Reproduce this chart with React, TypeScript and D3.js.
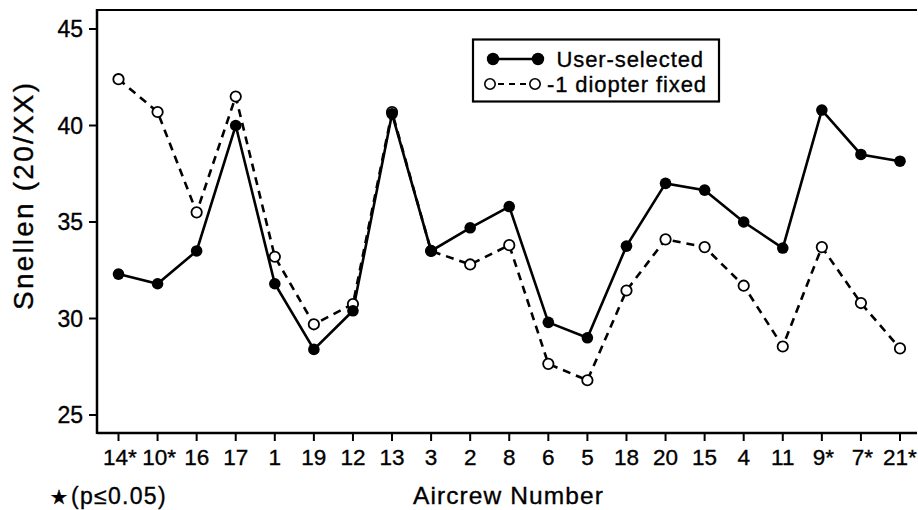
import React from "react";
import * as d3 from "d3";

const categories = ["14*", "10*", "16", "17", "1", "19", "12", "13", "3", "2", "8", "6", "5", "18", "20", "15", "4", "11", "9*", "7*", "21*"];
const userSelected = [32.3, 31.8, 33.5, 40.0, 31.8, 28.4, 30.4, 40.6, 33.5, 34.7, 35.8, 29.8, 29.0, 33.75, 37.0, 36.65, 35.0, 33.65, 40.8, 38.5, 38.15];
const diopterFixed = [42.4, 40.7, 35.5, 41.5, 33.2, 29.7, 30.75, 40.7, 33.5, 32.8, 33.8, 27.65, 26.8, 31.45, 34.1, 33.7, 31.7, 28.55, 33.7, 30.8, 28.45];
const yTicks = [25, 30, 35, 40, 45];
const legendLabels = ["User-selected", "-1 diopter fixed"];

const W = 918;
const H = 510;
const FONT = "'Liberation Sans', Arial, Helvetica, sans-serif";
const TXT = { stroke: "#000", strokeWidth: 0.35 };

export default function App() {
  const x = d3.scalePoint<string>().domain(categories).range([118.5, 900]);
  const y = d3.scaleLinear().domain([25, 45]).range([415, 29]);
  const left = 97;
  const right = 917;
  const top = 10;
  const bottom = 433;

  const line = d3
    .line<number>()
    .x((_, i) => x(categories[i]) as number)
    .y((d) => y(d));

  return (
    <svg
      width={W}
      height={H}
      style={{ position: "absolute", left: 0, top: 0, background: "#fff" }}
      fontFamily={FONT}
    >
      <rect width={W} height={H} fill="#fff" />
      {/* frame */}
      <line x1={left} x2={right} y1={top} y2={top} stroke="#000" strokeWidth={2} />
      <line x1={left} x2={right} y1={bottom} y2={bottom} stroke="#000" strokeWidth={2.5} />
      <line x1={left} x2={left} y1={top - 1} y2={bottom + 1} stroke="#000" strokeWidth={2.5} />

      {/* y ticks */}
      {yTicks.map((t) => (
        <g key={t}>
          <line x1={left - 8} x2={left} y1={y(t)} y2={y(t)} stroke="#000" strokeWidth={2} />
          <text x={83} y={y(t) + 8} textAnchor="end" fontSize={23} {...TXT}>
            {t}
          </text>
        </g>
      ))}

      {/* x ticks */}
      {categories.map((c, i) => (
        <g key={c}>
          <line x1={x(c)} x2={x(c)} y1={bottom} y2={bottom + 8} stroke="#000" strokeWidth={2} />
          <text
            x={(x(c) as number) + (c.endsWith("*") && i < categories.length - 1 ? 1.5 : 0)}
            y={465}
            textAnchor="middle"
            fontSize={22.5}
            {...TXT}
          >
            {c}
          </text>
        </g>
      ))}

      {/* axis titles */}
      <text transform="translate(33,196.5) rotate(-90)" textAnchor="middle" fontSize={28} textLength={227} lengthAdjust="spacing" {...TXT}>
        Snellen (20/XX)
      </text>
      <text x={508} y={504} textAnchor="middle" fontSize={24.5} textLength={190} lengthAdjust="spacing" {...TXT}>
        Aircrew Number
      </text>
      <text x={50} y={503.5} fontSize={23} {...TXT}>
        <tspan fontFamily="'DejaVu Sans', sans-serif" fontSize={20}>★</tspan>
        <tspan dx={3} letterSpacing={1.3}>(p≤0.05)</tspan>
      </text>

      {/* series lines */}
      <path d={line(diopterFixed) || ""} fill="none" stroke="#000" strokeWidth={2.6} strokeDasharray="8,6" />
      <path d={line(userSelected) || ""} fill="none" stroke="#000" strokeWidth={2.6} />

      {/* markers */}
      {diopterFixed.map((v, i) => (
        <circle key={"o" + i} cx={x(categories[i])} cy={y(v)} r={5.2} fill="#fff" stroke="#000" strokeWidth={1.8} />
      ))}
      {userSelected.map((v, i) => (
        <circle key={"f" + i} cx={x(categories[i])} cy={y(v)} r={5.8} fill="#000" />
      ))}

      {/* legend */}
      <rect x={473} y={39.5} width={246} height={62} fill="#fff" stroke="#000" strokeWidth={2.2} />
      <line x1={493} x2={538} y1={59} y2={59} stroke="#000" strokeWidth={2.5} />
      <circle cx={493} cy={59} r={6.2} fill="#000" />
      <circle cx={538} cy={59} r={6.2} fill="#000" />
      <line x1={495} x2={530} y1={84} y2={84} stroke="#000" strokeWidth={2} strokeDasharray="6,5" strokeDashoffset={-3} />
      <circle cx={490} cy={84} r={5.2} fill="#fff" stroke="#000" strokeWidth={1.6} />
      <circle cx={535} cy={84} r={5.2} fill="#fff" stroke="#000" strokeWidth={1.6} />
      <text x={556.5} y={67} fontSize={22} letterSpacing={0.9} {...TXT}>
        {legendLabels[0]}
      </text>
      <text x={547} y={92} fontSize={22} letterSpacing={0.9} {...TXT}>
        {legendLabels[1]}
      </text>
    </svg>
  );
}
